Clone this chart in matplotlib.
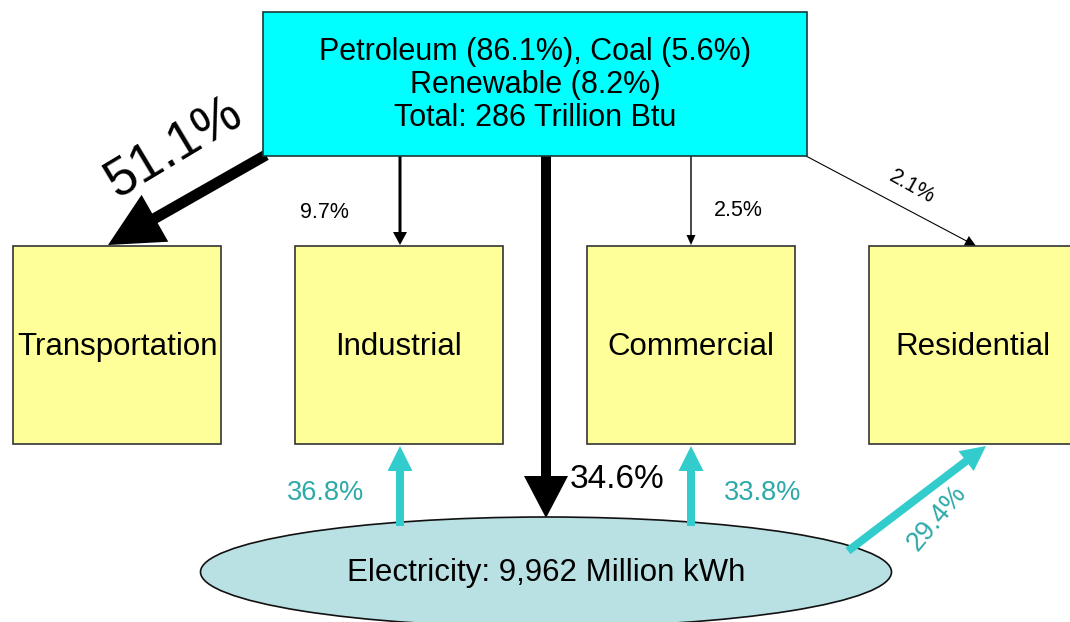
import matplotlib.pyplot as plt
from matplotlib.patches import Rectangle, Ellipse

plt.rcParams['font.family'] = ['Liberation Sans', 'DejaVu Sans']

# data
source_lines = ["Petroleum (86.1%), Coal (5.6%)", "Renewable (8.2%)", "Total: 286 Trillion Btu"]
sectors = ["Transportation", "Industrial", "Commercial", "Residential"]
fuel_pct = [51.1, 9.7, 2.5, 2.1]          # direct fuel use share by sector
fuel_to_elec_pct = 34.6                   # share of fuel going to electricity
elec_sectors = ["Industrial", "Commercial", "Residential"]
elec_pct = [36.8, 33.8, 29.4]             # electricity share by sector
elec_label = "Electricity: 9,962 Million kWh"

fig = plt.figure(figsize=(10.7, 6.22), dpi=100)
ax = fig.add_axes([0, 0, 1, 1])
ax.set_xlim(0, 1070)
ax.set_ylim(622, 0)
ax.axis("off")

black = "#000000"
teal = "#33CCCC"
teal_text = "#2EA9A9"

# source box
ax.add_patch(Rectangle((263, 12), 544, 144, fc="#00FFFF", ec="#1a3a3a", lw=1.2, zorder=3))
for i, line in enumerate(source_lines):
    ax.text(535, 52 + i * 33, line, ha="center", va="center", fontsize=22, zorder=4)

# sector boxes
box_x = [13, 295, 587, 869]
box_w = 208
for x, name in zip(box_x, sectors):
    ax.add_patch(Rectangle((x, 246), box_w, 198, fc="#FFFF99", ec="#333333", lw=1.2, zorder=3))
    ax.text(x + box_w / 2, 347, name, ha="center", va="center", fontsize=22.5, zorder=4)

# electricity ellipse
ax.add_patch(Ellipse((546, 572), 691, 110, fc="#B9E0E3", ec="#111111", lw=1.2, zorder=2))
ax.text(546, 573, elec_label, ha="center", va="center", fontsize=22.5, zorder=4)

# fuel arrows (source -> sectors)
starts = [(266, 155), (400, 156), (691, 156), (806, 156)]
ends = [(108, 245), (400, 245), (691, 245), (976, 246)]
shaft = [11, 3, 1.4, 1.1]
heads = [(54, 54), (14, 13), (9, 10), (11, 11)]
for (x0, y0), (x1, y1), w, (hw, hl) in zip(starts, ends, shaft, heads):
    ax.arrow(x0, y0, x1 - x0, y1 - y0, width=w, head_width=hw, head_length=hl,
             length_includes_head=True, fc=black, ec=black, lw=0, zorder=1)

ax.text(175, 148, f"{fuel_pct[0]}%", rotation=31, ha="center", va="center", fontsize=38)
ax.text(324, 212, f"{fuel_pct[1]}%", ha="center", va="center", fontsize=15.5)
ax.text(738, 210, f"{fuel_pct[2]}%", ha="center", va="center", fontsize=15.5)
ax.text(912, 187, f"{fuel_pct[3]}%", rotation=-29, ha="center", va="center", fontsize=15.5)

# fuel to electricity
ax.arrow(546, 156, 0, 362, width=10, head_width=44, head_length=42,
         length_includes_head=True, fc=black, ec=black, lw=0, zorder=1)
ax.text(617, 480, f"{fuel_to_elec_pct}%", ha="center", va="center", fontsize=24)

# electricity arrows (ellipse -> sectors)
e_starts = [(400, 526), (691, 526), (848, 551)]
e_ends = [(400, 446), (691, 446), (986, 446)]
for (x0, y0), (x1, y1) in zip(e_starts, e_ends):
    ax.arrow(x0, y0, x1 - x0, y1 - y0, width=8, head_width=25, head_length=25,
             length_includes_head=True, fc=teal, ec=teal, lw=0, zorder=5)

ax.text(326, 493, f"{elec_pct[0]}%", ha="center", va="center", fontsize=19.5, color=teal_text)
ax.text(763, 493, f"{elec_pct[1]}%", ha="center", va="center", fontsize=19.5, color=teal_text)
ax.text(937, 518, f"{elec_pct[2]}%", rotation=50, ha="center", va="center", fontsize=19.5, color=teal_text)

fig.savefig("out.png", dpi=100)
